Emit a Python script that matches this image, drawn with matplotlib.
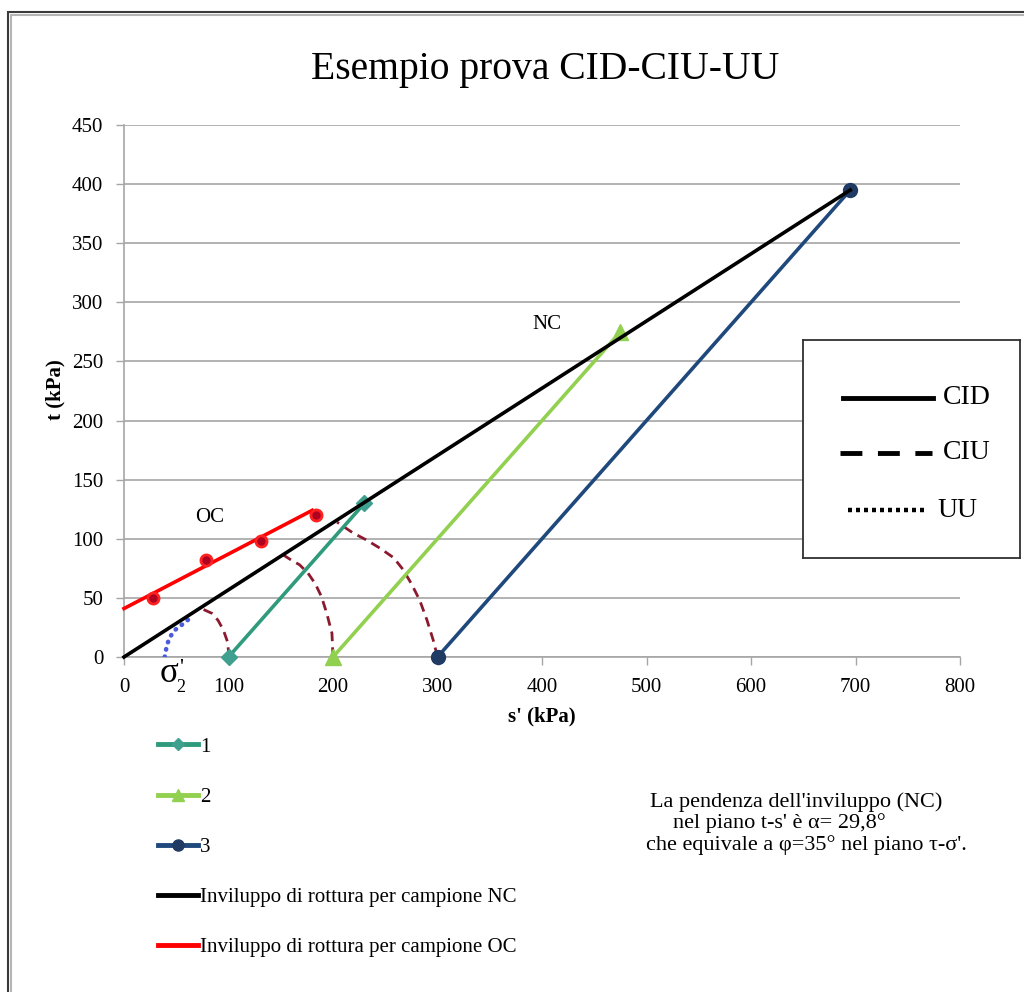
import matplotlib
matplotlib.use("Agg")
import matplotlib.pyplot as plt
from matplotlib.lines import Line2D
from matplotlib.patches import Rectangle

plt.rcParams['font.family'] = ['Liberation Serif', 'DejaVu Serif']

# ---------------- data ----------------
s1_x = [100, 230]
s1_y = [0, 130]
s2_x = [200, 475]
s2_y = [0, 275]
s3_x = [300, 695]
s3_y = [0, 395]

nc_x = [0, 695]
nc_y = [0, 395]
oc_x = [0, 180]
oc_y = [41, 124]
oc_pts_x = [28, 78, 131, 184]
oc_pts_y = [50, 82, 98, 120]

# CIU effective stress paths
ciu1_x = [100, 100, 99, 95, 90, 84, 74]
ciu1_y = [0, 5, 13, 23, 31, 37, 41]
ciu2_x = [200, 199, 194, 189, 183, 176, 168, 160, 153]
ciu2_y = [0, 20, 37, 51, 62, 71, 78, 82, 86]
ciu3_x = [300, 296, 290, 283, 275, 267, 258, 245, 232, 219, 204]
ciu3_y = [0, 14, 31, 48, 62, 74, 84, 92, 99, 105, 114]
# UU path
uu_x = [39, 40, 41, 44, 49, 55, 62]
uu_y = [0, 5, 10, 17, 23, 27, 32]

x_ticks = [0, 100, 200, 300, 400, 500, 600, 700, 800]
y_ticks = [0, 50, 100, 150, 200, 250, 300, 350, 400, 450]

legend_labels = ["1", "2", "3",
                 "Inviluppo di rottura per campione NC",
                 "Inviluppo di rottura per campione OC"]
box_labels = ["CID", "CIU", "UU"]

title = "Esempio prova CID-CIU-UU"
xlabel = "s' (kPa)"
ylabel = "t (kPa)"
note_lines = ["La pendenza dell'inviluppo (NC)",
              "nel piano t-s' è α= 29,8°",
              "che equivale a φ=35° nel piano τ-σ'."]

# ---------------- colours ----------------
C1 = "#2F9A7C"
C2 = "#92D050"
C3 = "#1F497D"
CIU_C = "#8C1A2E"
UU_C = "#4A5BDB"
GRID = "#A6A6A6"

W, H = 1024, 992
fig = plt.figure(figsize=(W / 100, H / 100), dpi=100)

def fx(px):
    return px / W

def fy(py):
    return 1 - py / H

# outer frame
fig.patches.append(Rectangle((fx(8), fy(1100)), fx(1200), (1100 - 12) / H,
                             transform=fig.transFigure, fill=False,
                             edgecolor="#3A3A3A", lw=1.5))
fig.patches.append(Rectangle((fx(11), fy(1100)), fx(1200), (1100 - 15) / H,
                             transform=fig.transFigure, fill=False,
                             edgecolor="#B5B5B5", lw=1.5))

ax = fig.add_axes([fx(124), fy(657), fx(960) - fx(124), fy(125) - fy(657)])
ax.set_xlim(0, 800)
ax.set_ylim(0, 450)
ax.set_xticks(x_ticks)
ax.set_yticks(y_ticks)
ax.tick_params(axis='both', labelsize=15, length=6, width=1, color=GRID,
               direction='out', pad=9)
ax.yaxis.grid(True, color=GRID, lw=1.2)
ax.set_axisbelow(True)
for s in ['top', 'right']:
    ax.spines[s].set_visible(False)
for s in ['left', 'bottom']:
    ax.spines[s].set_color(GRID)
    ax.spines[s].set_linewidth(1.2)

# CIU / UU paths
for xs, ys in [(ciu1_x, ciu1_y), (ciu2_x, ciu2_y), (ciu3_x, ciu3_y)]:
    ax.plot(xs, ys, color=CIU_C, lw=2.0, ls=(0, (3.5, 2.2)), zorder=3)
ax.plot(uu_x, uu_y, color=UU_C, lw=3.3, ls=(0, (0.1, 1.55)),
        dash_capstyle='round', zorder=3)

# envelopes
l_nc, = ax.plot(nc_x, nc_y, color="black", lw=2.6, zorder=5, clip_on=False)
l_oc, = ax.plot(oc_x, oc_y, color="#FF0000", lw=2.6, zorder=5, clip_on=False)
ax.plot(oc_pts_x, oc_pts_y, ls='none', marker='o', ms=8, mfc="#B00020",
        mec="#FF2020", mew=2, zorder=6)

# stress paths
l1, = ax.plot(s1_x, s1_y, color=C1, lw=2.6, marker='D', ms=8, mfc="#3FA090",
              mec="#3FA090", zorder=4, clip_on=False)
l2, = ax.plot(s2_x, s2_y, color=C2, lw=2.6, marker='^', ms=11, mfc=C2,
              mec=C2, zorder=4, clip_on=False)
l3, = ax.plot(s3_x, s3_y, color=C3, lw=2.6, marker='o', ms=10, mfc="#1F3B63",
              mec="#1F3B63", zorder=4, clip_on=False)

ax.text(405, 281, "NC", fontsize=15, ha='center', va='center')
ax.text(82, 118, "OC", fontsize=15, ha='center', va='center')

fig.text(fx(545), fy(70), title, fontsize=28.5, ha='center', va='center')
fig.text(fx(542), fy(716), xlabel, fontsize=15, fontweight='bold',
         ha='center', va='center')
fig.text(fx(55), fy(390), ylabel, fontsize=15, fontweight='bold',
         ha='center', va='center', rotation=90)
# sigma'_2 label under the axis
fig.text(fx(169), fy(673), "σ", fontsize=25, ha='center', va='center')
fig.text(fx(181), fy(668), "'", fontsize=16, ha='center', va='center')
fig.text(fx(181), fy(688), "2", fontsize=13, ha='center', va='center')

# bottom legend
h1 = Line2D([], [], color=C1, lw=3.5, marker='D', ms=6, mfc="#3FA090", mec="#3FA090")
h2 = Line2D([], [], color=C2, lw=3.5, marker='^', ms=8, mfc=C2, mec=C2)
h3 = Line2D([], [], color=C3, lw=3.5, marker='o', ms=8, mfc="#1F3B63", mec="#1F3B63")
h4 = Line2D([], [], color="black", lw=3.5)
h5 = Line2D([], [], color="#FF0000", lw=3.5)
fig.legend([h1, h2, h3, h4, h5], legend_labels, loc='upper left',
           bbox_to_anchor=(fx(158), fy(737)), bbox_transform=fig.transFigure,
           frameon=False, fontsize=15, handlelength=1.92, handletextpad=0.1,
           labelspacing=1.47, borderpad=0, borderaxespad=0, numpoints=1)

# annotation
fig.text(fx(650), fy(802), note_lines[0], fontsize=16, ha='left', va='center')
fig.text(fx(673), fy(823), note_lines[1], fontsize=16, ha='left', va='center')
fig.text(fx(646), fy(845), note_lines[2], fontsize=16, ha='left', va='center')

# right box legend
bx = fig.add_axes([fx(803), fy(558), fx(1020) - fx(803), fy(340) - fy(558)])
bx.set_xlim(0, 1)
bx.set_ylim(0, 1)
bx.set_xticks([])
bx.set_yticks([])
for s in bx.spines.values():
    s.set_color("#303030")
    s.set_linewidth(1.3)
bx.plot([0.184, 0.599], [0.734, 0.734], color='black', lw=3.5)
bx.plot([0.17, 0.595], [0.482, 0.482], color='black', lw=3.5, ls=(0, (4.5, 3.2)))
bx.plot([0.207, 0.56], [0.22, 0.22], color='black', lw=3.2, ls=(0, (0.9, 0.9)))
bx.text(0.645, 0.734, box_labels[0], fontsize=20, ha='left', va='center')
bx.text(0.645, 0.482, box_labels[1], fontsize=20, ha='left', va='center')
bx.text(0.618, 0.22, box_labels[2], fontsize=20, ha='left', va='center')

fig.savefig("out.png", dpi=100)
